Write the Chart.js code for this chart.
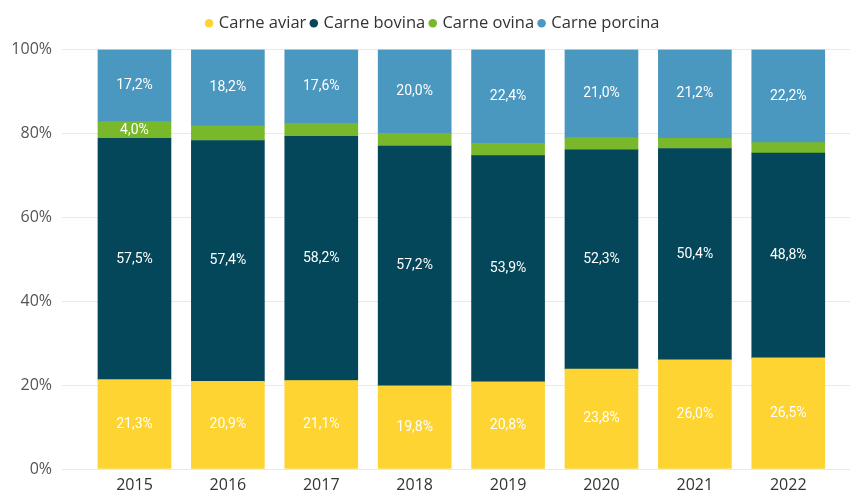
<!DOCTYPE html>
<html><head><meta charset="utf-8">
<script src="https://cdn.jsdelivr.net/npm/chart.js@4"></script>
<style>html,body{margin:0;padding:0;background:#fff}#wrap{width:852px;height:492px}</style>
</head><body><div id="wrap"><canvas id="c" width="852" height="492"></canvas></div>
<script>
const categories = ['2015', '2016', '2017', '2018', '2019', '2020', '2021', '2022'];
const seriesNames = ['Carne aviar', 'Carne bovina', 'Carne ovina', 'Carne porcina'];
const carneAviar = [21.3, 20.9, 21.1, 19.8, 20.8, 23.8, 26.0, 26.5];
const carneBovina = [57.5, 57.4, 58.2, 57.2, 53.9, 52.3, 50.4, 48.8];
const carneOvina = [4.0, 3.5, 3.1, 3.0, 2.9, 2.9, 2.4, 2.5];
const carnePorcina = [17.2, 18.2, 17.6, 20.0, 22.4, 21.0, 21.2, 22.2];
const yTickValues = [0, 20, 40, 60, 80, 100];
const seriesColors = ['#FDD431', '#05475A', '#78B82A', '#4A97BF'];

const seriesValues = [carneAviar, carneBovina, carneOvina, carnePorcina];

const toPoints = arr => arr.map((v, i) => ({ x: i, y: v }));

const labelPlugin = {
  id: 'segLabels',
  afterDatasetsDraw(chart) {
    const ctx = chart.ctx;
    ctx.save();
    ctx.font = '400 14px Roboto';
    ctx.fillStyle = '#ffffff';
    ctx.textAlign = 'center';
    ctx.textBaseline = 'middle';
    chart.data.datasets.forEach((ds, di) => {
      const meta = chart.getDatasetMeta(di);
      meta.data.forEach((el, i) => {
        const v = seriesValues[di][i];
        if (v < 4.0) return;
        const p = el.getProps(['x', 'y', 'base'], true);
        ctx.fillText(v.toFixed(1).replace('.', ',') + '%', p.x, (p.y + p.base) / 2);
      });
    });
    ctx.restore();
  }
};

const legendSpacer = {
  id: 'legendSpacer',
  beforeInit(chart) {
    const origFit = chart.legend.fit;
    chart.legend.fit = function () {
      origFit.bind(chart.legend)();
      this.height += 8;
    };
  },
  afterLayout(chart) {
    chart.legend.left = 17;
  }
};

new Chart(document.getElementById('c'), {
  type: 'bar',
  data: {
    datasets: seriesNames.map((name, k) => ({
      label: name,
      data: toPoints(seriesValues[k]),
      backgroundColor: seriesColors[k],
      borderWidth: 0,
      barThickness: 73
    }))
  },
  options: {
    responsive: false,
    animation: false,
    devicePixelRatio: 1,
    layout: { padding: { top: 9, left: 0, right: 2, bottom: 0 } },
    plugins: {
      legend: {
        position: 'top',
        labels: {
          usePointStyle: true,
          pointStyle: 'circle',
          boxWidth: 3,
          boxHeight: 6,
          padding: 6,
          color: '#333333',
          font: { family: 'Open Sans', size: 16.5 }
        }
      },
      tooltip: { enabled: false }
    },
    scales: {
      x: {
        type: 'linear',
        stacked: true,
        offset: false,
        min: -0.776,
        max: 7.661,
        grid: { display: false, drawTicks: false, offset: false },
        border: { display: false },
        afterBuildTicks: s => { s.ticks = categories.map((c, i) => ({ value: i })); },
        afterFit: s => { s.height = 23; },
        ticks: {
          padding: 7,
          color: '#333333',
          font: { family: 'Open Sans', size: 16 },
          callback: v => categories[v] !== undefined ? categories[v] : ''
        }
      },
      y: {
        stacked: true,
        min: 0,
        max: 100,
        afterBuildTicks: s => { s.ticks = yTickValues.map(v => ({ value: v })); },
        afterFit: s => { s.width = 62; },
        grid: { color: '#e9e9e9', lineWidth: 1, drawTicks: false },
        border: { display: false },
        ticks: {
          padding: 10,
          color: '#555555',
          font: { family: 'Open Sans', size: 16 },
          callback: v => v + '%'
        }
      }
    }
  },
  plugins: [legendSpacer, labelPlugin]
});
</script></body></html>
